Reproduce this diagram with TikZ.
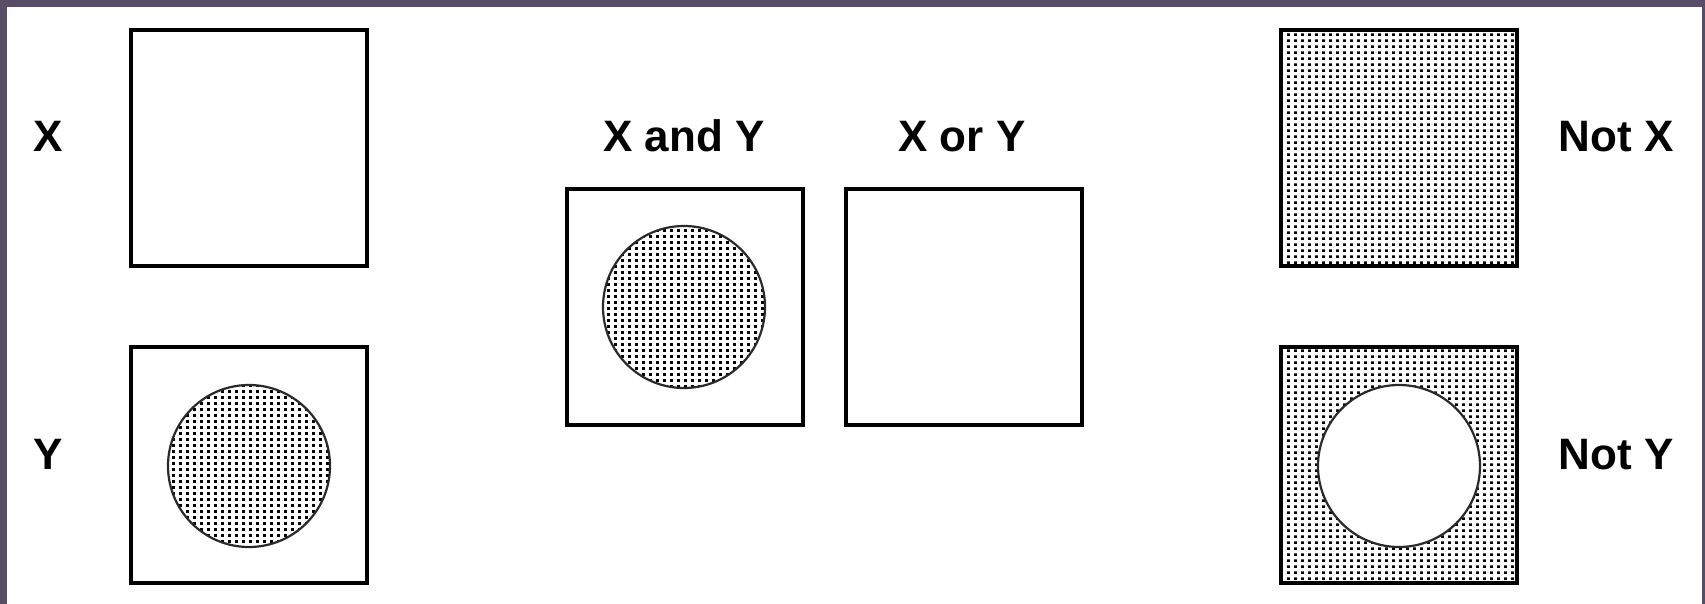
\documentclass[tikz,border=0pt]{standalone}
\usepackage{fontspec}
\setmainfont{Liberation Sans}
\usetikzlibrary{patterns.meta}
\definecolor{frame}{HTML}{574D66}
\definecolor{ring}{HTML}{2A2A2A}
\tikzdeclarepattern{name=mydots,type=uncolored,
  bounding box={(0pt,0pt) and (6.6pt,6.2pt)},
  tile size={(6.6pt,6.2pt)},
  code={\fill (0pt,0pt) rectangle (3.1pt,3.1pt);}}
\tikzset{
  setbox/.style={draw=black,line width=4pt,rectangle,minimum width=236pt,minimum height=236pt,inner sep=0pt,fill=white},
  dotted box/.style={setbox,pattern=mydots,pattern color=black},
  ringc/.style={draw=ring,line width=2.2pt,circle,minimum size=162pt,inner sep=0pt},
  dotring/.style={ringc,pattern=mydots,pattern color=black},
  whitering/.style={ringc,fill=white},
  lbl/.style={font=\fontsize{44}{50}\selectfont\bfseries,anchor=base,inner sep=0pt}
}
\begin{document}
\begin{tikzpicture}[x=1pt,y=-1pt]
\useasboundingbox (0,0) rectangle (1705,604);
\fill[white] (0,0) rectangle (1705,604);
% frame
\fill[frame] (0,0) rectangle (1705,7);
\fill[frame] (0,0) rectangle (7,604);
\fill[frame] (1702,0) rectangle (1705,604);
% boxes
\node[setbox] (bx) at (249,148) {};
\node[setbox] (by) at (249,465) {};
\node[dotring] (cy) at (249,466) {};
\node[setbox] (band) at (685,307) {};
\node[dotring] (cand) at (684,307) {};
\node[setbox] (bor) at (964,307) {};
\node[dotted box] (bnx) at (1399,148) {};
\node[dotted box] (bny) at (1399,465) {};
\node[whitering] (cny) at (1399,466) {};
% labels
\node[lbl] (lx) at (48,152) {X};
\node[lbl] (ly) at (48,469) {Y};
\node[lbl] (land) at (684,152) {X and Y};
\node[lbl] (lor) at (962,152) {X or Y};
\node[lbl] (lnx) at (1616,152) {Not X};
\node[lbl] (lny) at (1616,469) {Not Y};
\end{tikzpicture}
\end{document}
